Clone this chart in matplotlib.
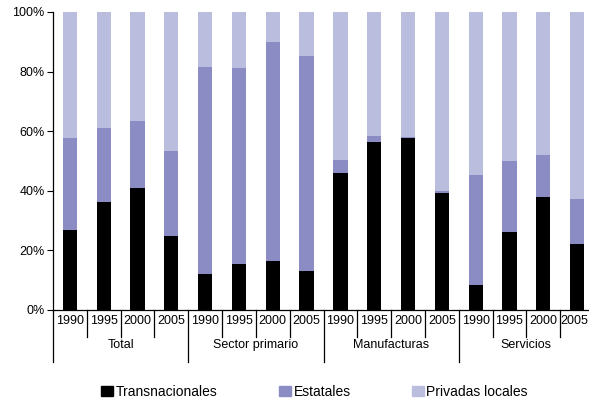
import matplotlib
matplotlib.use("Agg")
import matplotlib.pyplot as plt
from matplotlib.lines import Line2D
from matplotlib.patches import Patch
from matplotlib.ticker import FuncFormatter

plt.rcParams['font.family'] = ['Liberation Sans', 'DejaVu Sans']

groups = ["Total", "Sector primario", "Manufacturas", "Servicios"]
years = ["1990", "1995", "2000", "2005"]
transnacionales = [26.7, 36.4, 40.8, 25.0,
                   12.2, 15.6, 16.6, 13.2,
                   45.9, 56.3, 57.6, 39.1,
                   8.5, 26.3, 37.8, 22.3]
# cumulative top of "Estatales"
estatales_top = [57.6, 61.0, 63.3, 53.3,
                 81.5, 81.2, 89.9, 85.2,
                 50.2, 58.3, 58.0, 39.8,
                 45.2, 49.9, 51.9, 37.4]
estatales = [e - t for e, t in zip(estatales_top, transnacionales)]
privadas = [100 - e for e in estatales_top]

c_trans = "#000000"
c_est = "#8B8CC4"
c_priv = "#BBBDDF"

W, H = 589, 400
fig = plt.figure(figsize=(W / 100, H / 100), dpi=100)
x0, x1, y0, y1 = 53, 594, 310, 12
ax = fig.add_axes([x0 / W, (H - y0) / H, (x1 - x0) / W, (y0 - y1) / H])

n = len(transnacionales)
xs = list(range(n))
bw = 0.42
ax.bar(xs, transnacionales, width=bw, color=c_trans, label="Transnacionales")
ax.bar(xs, estatales, width=bw, bottom=transnacionales, color=c_est, label="Estatales")
ax.bar(xs, privadas, width=bw, bottom=estatales_top, color=c_priv, label="Privadas locales")

ax.set_xlim(-0.5, n - 0.5)
ax.set_ylim(0, 100)
ax.set_yticks([0, 20, 40, 60, 80, 100])
ax.yaxis.set_major_formatter(FuncFormatter(lambda v, p: f"{int(v)}%"))
ax.tick_params(axis='y', length=4, width=0.8, labelsize=9, pad=2, colors='black')
ax.set_xticks([])
for s in ["top", "right"]:
    ax.spines[s].set_visible(False)
ax.spines["left"].set_linewidth(0.9)
ax.spines["bottom"].set_linewidth(0.9)

span = y0 - y1
tr = ax.get_xaxis_transform()
for i in range(n):
    xb = i - 0.5
    depth = 52 if i % 4 == 0 else 27
    ax.add_line(Line2D([xb, xb], [0, -depth / span], transform=tr,
                       color="black", lw=0.9, clip_on=False))
for i in range(n - 1):
    ax.text(i, -11 / span, years[i % 4], transform=tr, ha="center", va="center",
            fontsize=9)
# last label kept inside the figure edge
fig.text(588 / W, (H - 321) / H, years[(n - 1) % 4], ha="right", va="center",
         fontsize=9)
for g, name in enumerate(groups):
    ax.text(g * 4 + 1.5, -35 / span, name, transform=tr, ha="center", va="center",
            fontsize=9)

handles = [Patch(color=c_trans), Patch(color=c_est), Patch(color=c_priv)]
fig.legend(handles, ["Transnacionales", "Estatales", "Privadas locales"],
           loc="center", bbox_to_anchor=(314.5 / W, (H - 392) / H), ncol=3,
           frameon=False, fontsize=10, handlelength=0.86, handleheight=0.75,
           handletextpad=0.2, columnspacing=4.4, borderpad=0)

fig.savefig("out.png", dpi=100)
